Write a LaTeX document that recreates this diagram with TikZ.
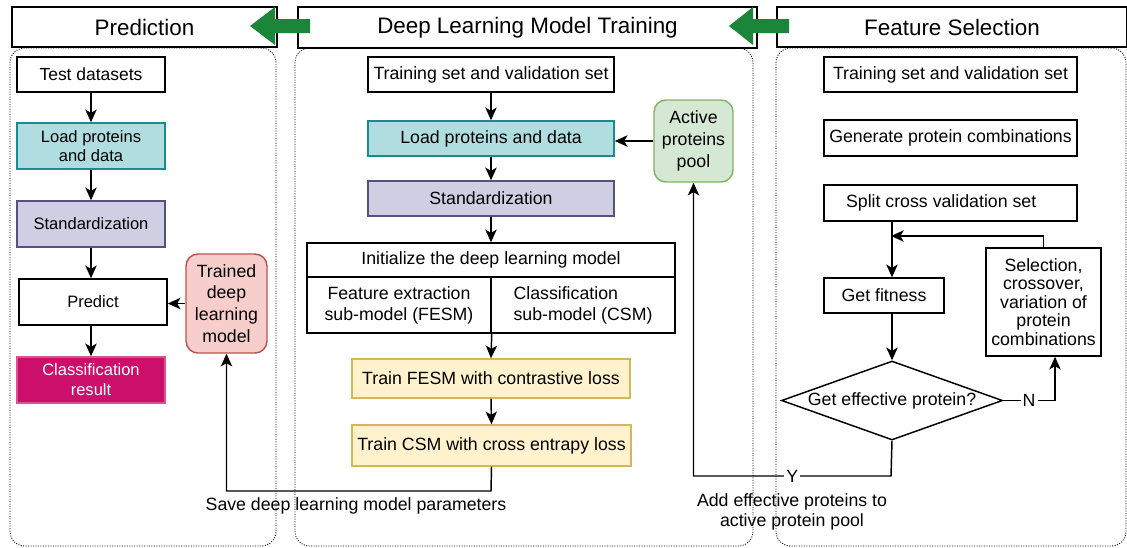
\documentclass[tikz,border=0pt]{standalone}
\usepackage{fontspec}
\setmainfont{Liberation Sans}
\usetikzlibrary{arrows.meta,shapes.geometric}
\definecolor{tealF}{HTML}{B0DDE0}
\definecolor{tealD}{HTML}{1A8A93}
\definecolor{purpF}{HTML}{D0CEE2}
\definecolor{purpD}{HTML}{56517E}
\definecolor{pinkF}{HTML}{F8CECC}
\definecolor{pinkD}{HTML}{B85450}
\definecolor{grnF}{HTML}{D5E8D4}
\definecolor{grnD}{HTML}{82B366}
\definecolor{yelF}{HTML}{FFF2CC}
\definecolor{yelD}{HTML}{D6B656}
\definecolor{magF}{HTML}{CC0F6B}
\definecolor{magD}{HTML}{D9558F}
\definecolor{bigArrow}{HTML}{1B8539}
\begin{document}
\begin{tikzpicture}[x=0.75pt,y=-0.75pt,
  rect/.style n args={4}{at={({(#1+#3)/2},{(#2+#4)/2})}, minimum width={(#3-#1)*0.75pt}, minimum height={(#4-#2)*0.75pt}},
  box/.style={draw=black, line width=1.1pt, inner sep=0pt, align=center, font=\fontsize{13.3}{16}\selectfont},
  pbox/.style={box, font=\fontsize{12.4}{14.4}\selectfont},
  hdr/.style={draw=black, line width=1.6pt, inner sep=0pt, font=\fontsize{16.8}{20}\selectfont},
  tealbox/.style={fill=tealF, draw=tealD},
  purpbox/.style={fill=purpF, draw=purpD},
  yelbox/.style={fill=yelF, draw=yelD},
  cont/.style={draw=black, line width=0.65pt, dash pattern=on 0.75pt off 1.1pt, rounded corners=11pt, inner sep=0pt},
  arr/.style={-{Stealth[length=9.5pt,width=8.5pt,inset=2.4pt]}, line width=1.1pt},
  lbl/.style={fill=white, inner sep=1.5pt, font=\fontsize{13.3}{16}\selectfont},
  txt/.style={inner sep=0pt, align=center, font=\fontsize{13.3}{15}\selectfont}
]
\useasboundingbox (0,0) rectangle (1127,547);
\clip (0,0) rectangle (1127,547);

% containers
\node[cont, rect={10}{48}{276}{546}] (cpred) {};
\node[cont, rect={295}{48}{753}{546}] (cdl) {};
\node[cont, rect={776}{48}{1126}{546}] (cfs) {};

% headers
\node[hdr, fill=white, rect={12}{7}{277}{47}] (hpred) {Prediction};
\node[hdr, fill=white, rect={298}{7}{757}{48}] (hdl) {Deep Learning Model Training};
\node[hdr, fill=white, rect={777}{7}{1127}{47}] (hfs) {Feature Selection};

% big green arrows
\fill[bigArrow] (310,19) -- (275,19) -- (275,7) -- (250,26) -- (275,45) -- (275,33) -- (310,33) -- cycle;
\fill[bigArrow] (789,19) -- (753,19) -- (753,7) -- (729,26) -- (753,45) -- (753,33) -- (789,33) -- cycle;

% Prediction column
\node[pbox, rect={17}{57}{165}{92}, font=\fontsize{13.1}{15}\selectfont] (ptd) {Test datasets};
\node[pbox, tealbox, rect={17}{123}{165}{169}] (plo) {Load proteins\\and data};
\node[pbox, purpbox, rect={17}{201}{165}{247}] (pst) {Standardization};
\node[pbox, rect={19}{279}{167}{325}] (ppr) {Predict};
\node[pbox, fill=magF, draw=magD, text=white, rect={17}{357}{165}{403}, font=\fontsize{12.4}{15}\selectfont] (pcr) {Classification\\result};
\node[box, fill=pinkF, draw=pinkD, rounded corners=9pt, rect={186}{254}{267}{353}, font=\fontsize{13.3}{16.3}\selectfont] (tm) {Trained\\deep\\learning\\model};

\draw[arr] (ptd.south) -- (plo.north);
\draw[arr] (plo.south) -- (pst.north);
\draw[arr] (pst.south) -- (pst.south |- ppr.north);
\draw[arr] (ppr.south -| pcr.north) -- (pcr.north);
\draw[arr] (tm.west) -- (tm.west -| ppr.east);

% Deep learning column
\node[box, rect={368}{57}{614}{92}] (dtv) {Training set and validation set};
\node[box, tealbox, rect={368}{121}{614}{156}] (dlo) {Load proteins and data};
\node[box, purpbox, rect={368}{181}{614}{216}] (dst) {Standardization};
\node[box, rect={307}{243}{675}{277}] (din) {Initialize the deep learning model};
\node[box, rect={307}{277}{491}{333}, font=\fontsize{13.3}{15.8}\selectfont] (dfe) {Feature extraction\\sub-model (FESM)};
\node[box, rect={491}{277}{675}{333}, font=\fontsize{13.3}{15.8}\selectfont, align=left] (dcs) {Classification\\sub-model (CSM)};
\node[box, yelbox, rect={352}{359}{630}{398}] (dtf) {Train FESM with contrastive loss};
\node[box, yelbox, rect={352}{425}{631}{466}] (dtc) {Train CSM with cross entrapy loss};
\node[box, fill=grnF, draw=grnD, rounded corners=9pt, rect={654}{100}{733}{182}, font=\fontsize{13.3}{16.5}\selectfont] (ap) {Active\\proteins\\pool};

\draw[arr] (dtv.south) -- (dlo.north);
\draw[arr] (dlo.south) -- (dst.north);
\draw[arr] (dst.south) -- (din.north);
\draw[arr] (dfe.south east) -- (dtf.north);
\draw[arr] (dtf.south) -- (dtc.north);
\draw[arr] (ap.west) -- (ap.west -| dlo.east);

\coordinate (sv) at (491,491);
\draw[arr] (dtc.south) -- (sv) -- (sv -| tm.south) -- (tm.south);
\node[txt, font=\fontsize{13.3}{16}\selectfont] (svl) at (356,506) {Save deep learning model parameters};

% Feature selection column
\node[box, rect={824}{57}{1077}{92}] (ftv) {Training set and validation set};
\node[box, rect={824}{120}{1077}{156}] (fgp) {Generate protein combinations};
\node[box, rect={824}{185}{1077}{221}] (fsc) {Split cross validation set\hspace*{14pt}};
\node[box, rect={824}{278}{944}{313}] (fgf) {Get fitness};
\node[box, rect={986}{248}{1101}{356}, font=\fontsize{13.3}{13.9}\selectfont] (fsel) {Selection,\\crossover,\\variation of\\protein\\combinations};
\node[draw=black, line width=1.1pt, diamond, aspect=2.8, inner sep=0pt, minimum width=165.75pt, minimum height=59.25pt, font=\fontsize{13.3}{16}\selectfont] (fdm) at (892,400.5) {Get effective protein?};

\draw[arr] (fdm.north |- fsc.south) -- (fdm.north |- fgf.north);
\draw[arr] (fdm.north |- fgf.south) -- (fdm.north);
\coordinate (lp) at (891,236);
\draw[arr] (fsel.north) |- (lp);
\coordinate (nc) at (1055,400.5);
\draw[arr] (fdm.east) -- node[lbl] (nlab) {N} (nc) -- (nc |- fsel.south);
\coordinate (yc) at (891,476);
\draw[arr] (fdm.south) -- (yc) -- node[lbl] (ylab) {Y} (yc -| ap.south) -- (ap.south);
\node[txt, font=\fontsize{13.3}{15}\selectfont] (adl) at (792,512) {Add effective proteins to\\active protein pool};
\end{tikzpicture}
\end{document}
